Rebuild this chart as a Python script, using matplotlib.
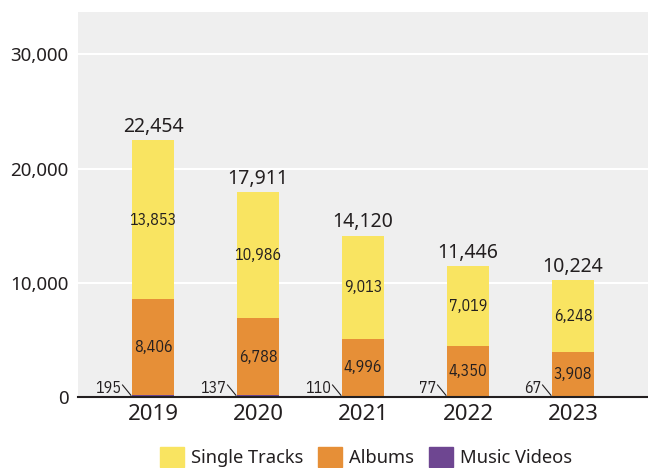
import matplotlib
matplotlib.use("Agg")
import matplotlib.pyplot as plt
import numpy as np
from matplotlib.patches import Patch

years = ["2019", "2020", "2021", "2022", "2023"]
music_videos = [195, 137, 110, 77, 67]
albums = [8406, 6788, 4996, 4350, 3908]
single_tracks = [13853, 10986, 9013, 7019, 6248]
totals = [22454, 17911, 14120, 11446, 10224]
legend_labels = ["Single Tracks", "Albums", "Music Videos"]

c_single = "#F9E461"
c_album = "#E68F37"
c_video = "#6E4691"
txt = "#231F20"

plt.rcParams['font.family'] = ['Noto Sans', 'DejaVu Sans']

fig = plt.figure(figsize=(6.48, 4.68), dpi=100)
ax = fig.add_axes([78/648, 1-397/468, 570/648, 385/468])
ax.set_facecolor("#EFEFEF")

x = np.arange(len(years))
w = 0.4
mv = np.array(music_videos)
al = np.array(albums)
st = np.array(single_tracks)
ax.bar(x, mv, w, color=c_video, zorder=3)
ax.bar(x, al, w, bottom=mv, color=c_album, zorder=3)
ax.bar(x, st, w, bottom=mv + al, color=c_single, zorder=3)

narrow = ['IBM Plex Sans Condensed', 'Fira Sans Extra Condensed', 'DejaVu Sans']
for i in range(len(years)):
    ax.text(x[i], mv[i] + al[i] / 2, f"{albums[i]:,}", ha="center", va="center",
            fontsize=11.5, family=narrow, color=txt, zorder=4)
    ax.text(x[i], mv[i] + al[i] + st[i] / 2, f"{single_tracks[i]:,}", ha="center", va="center",
            fontsize=11.5, family=narrow, color=txt, zorder=4)
    ax.text(x[i], totals[i] + 300, f"{totals[i]:,}", ha="center", va="bottom",
            fontsize=14, color=txt, zorder=4)
    ax.plot([x[i] - w / 2 - 0.09, x[i] - w / 2 - 0.01], [1050, 150], color=txt, lw=0.8, zorder=4)
    ax.text(x[i] - w / 2 - 0.1, 800, f"{music_videos[i]:,}", ha="right", va="center",
            fontsize=11.5, family=narrow, color=txt, zorder=4)

ax.set_xlim(-0.714, 4.714)
ax.set_ylim(0, 33700)
ax.set_yticks([0, 10000, 20000, 30000])
ax.set_yticklabels(["0", "10,000", "20,000", "30,000"])
ax.set_xticks(x)
ax.set_xticklabels(years)
ax.tick_params(axis="y", length=0, labelsize=13.5, colors=txt, pad=7)
ax.tick_params(axis="x", length=0, labelsize=16, colors=txt, pad=5)
ax.grid(axis="y", color="white", lw=1.5, zorder=1)
for s in ["top", "right", "left"]:
    ax.spines[s].set_visible(False)
ax.spines["bottom"].set_color(txt)
ax.spines["bottom"].set_linewidth(1.5)
ax.spines["bottom"].set_zorder(5)

handles = [Patch(color=c, label=l) for c, l in zip([c_single, c_album, c_video], legend_labels)]
fig.legend(handles=handles, loc="center", bbox_to_anchor=(366/648, 1-457/468), ncol=3,
           frameon=False, fontsize=13.2, handlelength=1.3, handleheight=1.3,
           handletextpad=0.4, columnspacing=0.8, labelcolor=txt)

fig.savefig("out.png", dpi=100)
